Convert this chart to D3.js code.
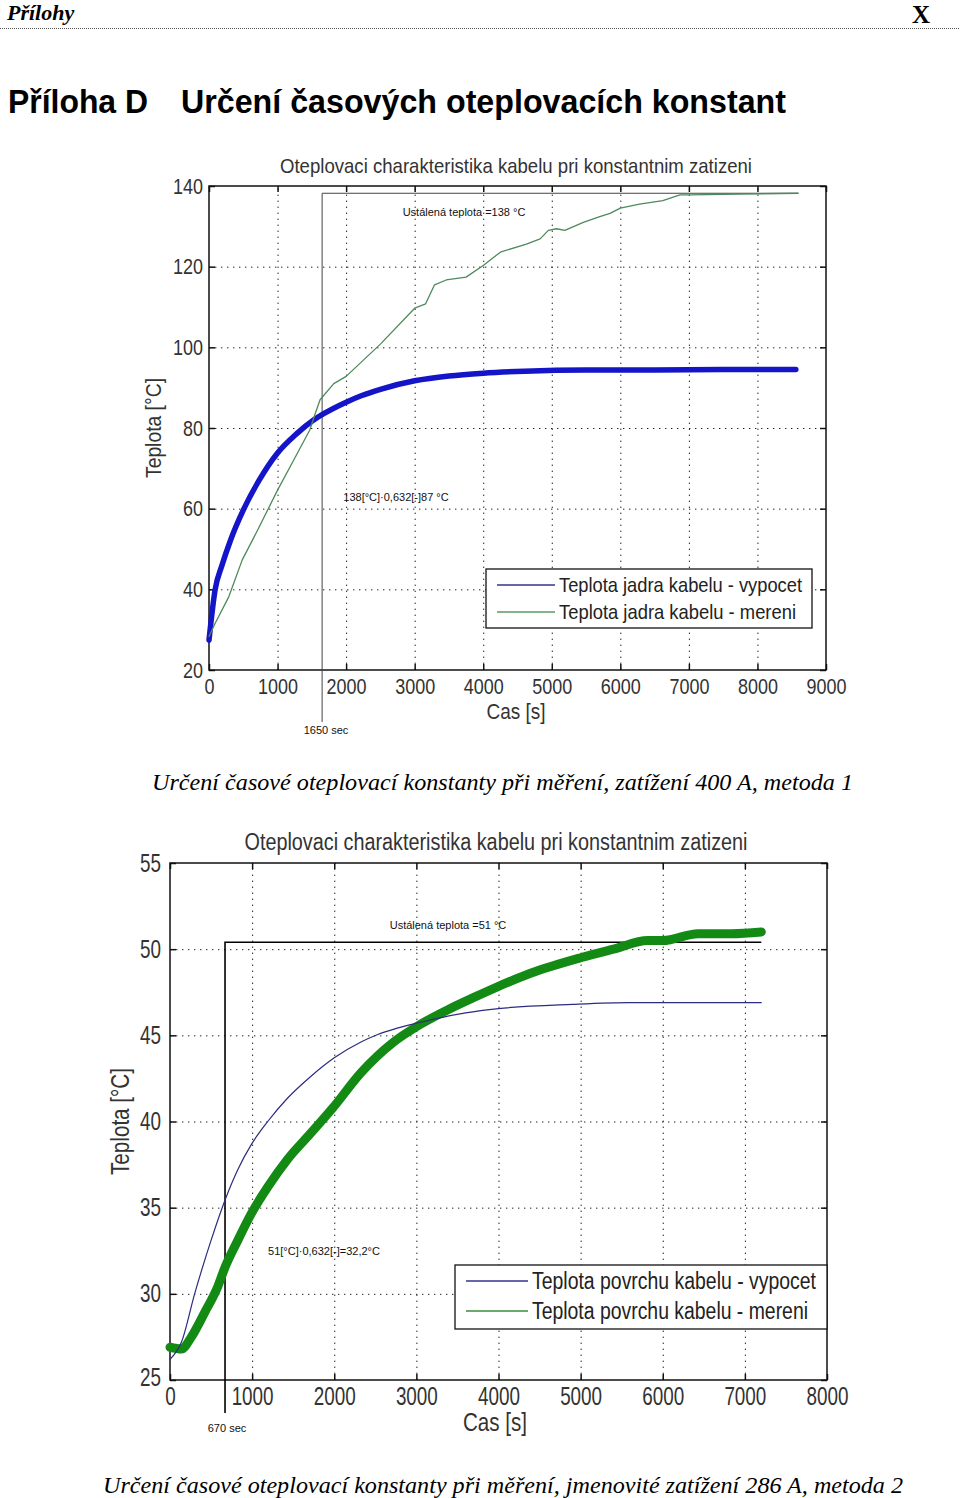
<!DOCTYPE html>
<html>
<head>
<meta charset="utf-8">
<script src="https://cdn.jsdelivr.net/npm/d3@7"></script>
<style>
  body { margin: 0; background: #fff; }
  svg { display: block; }
</style>
</head>
<body>
<div id="page"></div>
<script>
// --- chart 1: core temperature, 400 A, method 1 ---
const coreCalcTime = [0, 90, 190, 310, 510, 730, 1000, 1280, 1520, 1680, 2000, 2220, 2500, 3000, 3500, 4000, 4600, 5500, 6500, 7500, 8560];
const coreCalcTemp = [27.4, 40, 46, 52, 60, 67, 73.8, 78.6, 81.9, 83.6, 86.4, 88, 89.6, 91.7, 92.9, 93.6, 94.1, 94.4, 94.4, 94.5, 94.5];
const coreMeasTime = [0, 90, 290, 485, 710, 1000, 1250, 1470, 1550, 1620, 1820, 2000, 2500, 3000, 3160, 3290, 3460, 3750, 4000, 4250, 4630, 4830, 4950, 5070, 5190, 5460, 5700, 5850, 6000, 6280, 6620, 6870, 7000, 7740, 8590];
const coreMeasTemp = [28.3, 31.6, 38.2, 47.3, 54.7, 64.6, 72.5, 79.5, 83.6, 87, 91, 92.8, 100.8, 109.7, 110.8, 115.5, 116.7, 117.4, 120.3, 123.6, 125.6, 126.9, 129, 129.4, 129, 131, 132.4, 133.2, 134.5, 135.5, 136.4, 137.8, 137.8, 138, 138.2];
const coreXTicks = [0, 1000, 2000, 3000, 4000, 5000, 6000, 7000, 8000, 9000];
const coreYTicks = [20, 40, 60, 80, 100, 120, 140];
const coreLegend = ['Teplota jadra kabelu - vypocet', 'Teplota jadra kabelu - mereni'];

// --- chart 2: surface temperature, 286 A, method 2 ---
const surfCalcTime = [0, 140, 300, 500, 675, 825, 995, 1190, 1430, 1710, 2000, 2320, 2530, 2720, 3000, 3600, 4000, 4900, 5600, 7200];
const surfCalcTemp = [26.2, 27.2, 30.0, 33.1, 35.5, 37.2, 38.7, 40.0, 41.35, 42.6, 43.7, 44.6, 45.05, 45.35, 45.7, 46.3, 46.55, 46.8, 46.9, 46.9];
const surfMeasTime = [0, 140, 260, 420, 580, 675, 825, 995, 1190, 1430, 1710, 1985, 2320, 2720, 3000, 3390, 3700, 3980, 4390, 5000, 5400, 5820, 6000, 6430, 6840, 7200];
const surfMeasTemp = [26.9, 26.8, 27.5, 28.9, 30.4, 31.6, 33.1, 34.7, 36.2, 37.8, 39.3, 40.8, 42.8, 44.6, 45.5, 46.5, 47.2, 47.8, 48.6, 49.5, 50.0, 50.5, 50.5, 50.9, 50.9, 51.0];
const surfXTicks = [0, 1000, 2000, 3000, 4000, 5000, 6000, 7000, 8000];
const surfYTicks = [25, 30, 35, 40, 45, 50, 55];
const surfLegend = ['Teplota povrchu kabelu - vypocet', 'Teplota povrchu kabelu - mereni'];

const chartTitle = 'Oteplovaci charakteristika kabelu pri konstantnim zatizeni';
const SANS = '"Liberation Sans", Arial, sans-serif';

const svg = d3.select('#page').append('svg')
    .attr('width', 960)
    .attr('height', 1498);

// squeeze a text to a given width, the plot fonts are tall and narrow
function squeeze(sel, len) {
    sel.attr('textLength', len).attr('lengthAdjust', 'spacingAndGlyphs');
    return sel;
}

// page header
svg.append('text')
    .attr('x', 7).attr('y', 20)
    .style('font', 'italic bold 22px "Liberation Serif", serif')
    .text('Přílohy');
svg.append('text')
    .attr('x', 912).attr('y', 23)
    .style('font', 'bold 25px "Liberation Serif", serif')
    .text('X');
svg.append('line')
    .attr('x1', 0).attr('x2', 960).attr('y1', 28.5).attr('y2', 28.5)
    .style('stroke', '#555')
    .style('stroke-dasharray', '1,1');

squeeze(svg.append('text')
    .attr('x', 8).attr('y', 113)
    .style('font', 'bold 33px ' + SANS)
    .text('Příloha D'), 140);
squeeze(svg.append('text')
    .attr('x', 181).attr('y', 113)
    .style('font', 'bold 33px ' + SANS)
    .text('Určení časových oteplovacích konstant'), 605);

function drawChart(cfg) {
    const x = d3.scaleLinear().domain(cfg.xDomain).range([cfg.left, cfg.right]);
    const y = d3.scaleLinear().domain(cfg.yDomain).range([cfg.bottom, cfg.top]);
    const g = svg.append('g');
    const w = cfg.right - cfg.left;
    const h = cfg.bottom - cfg.top;
    const fs = cfg.fontSize;

    // dotted grid
    g.append('g')
        .attr('transform', `translate(0,${cfg.bottom})`)
        .call(d3.axisBottom(x).tickValues(cfg.xTicks.slice(1, -1)).tickSize(-h).tickFormat(''))
        .call(s => s.select('.domain').remove())
        .selectAll('line')
        .attr('class', 'grid')
        .style('stroke', '#222').style('stroke-dasharray', '1.4,4.6');
    g.append('g')
        .attr('transform', `translate(${cfg.left},0)`)
        .call(d3.axisLeft(y).tickValues(cfg.yTicks.slice(1, -1)).tickSize(-w).tickFormat(''))
        .call(s => s.select('.domain').remove())
        .selectAll('line')
        .attr('class', 'grid')
        .style('stroke', '#222').style('stroke-dasharray', '1.4,4.6');

    // inward ticks on all four sides
    const fmt = d3.format('d');
    const xb = g.append('g')
        .attr('transform', `translate(0,${cfg.bottom})`)
        .call(d3.axisBottom(x).tickValues(cfg.xTicks).tickFormat(fmt)
            .tickSizeInner(-6).tickSizeOuter(0).tickPadding(cfg.xPad));
    const yl = g.append('g')
        .attr('transform', `translate(${cfg.left},0)`)
        .call(d3.axisLeft(y).tickValues(cfg.yTicks).tickFormat(fmt)
            .tickSizeInner(-6).tickSizeOuter(0).tickPadding(cfg.yPad));
    g.append('g')
        .attr('transform', `translate(0,${cfg.top})`)
        .call(d3.axisTop(x).tickValues(cfg.xTicks).tickSizeInner(-6).tickSizeOuter(0).tickFormat(''));
    g.append('g')
        .attr('transform', `translate(${cfg.right},0)`)
        .call(d3.axisRight(y).tickValues(cfg.yTicks).tickSizeInner(-6).tickSizeOuter(0).tickFormat(''));
    g.selectAll('.domain').remove();
    g.selectAll('.tick line:not(.grid)')
        .style('stroke', '#111').style('stroke-width', 1.5);
    [xb, yl].forEach(a => a.selectAll('text')
        .style('font-family', SANS).style('font-size', fs + 'px').style('fill', '#333')
        .attr('textLength', d => fmt(d).length * cfg.digitW)
        .attr('lengthAdjust', 'spacingAndGlyphs'));
    // the lowest y label sits a little higher so it clears the x origin label
    yl.selectAll('text').filter(d => d === cfg.yDomain[0]).attr('dy', cfg.yLowDy);

    // frame
    g.append('rect')
        .attr('x', cfg.left).attr('y', cfg.top).attr('width', w).attr('height', h)
        .style('fill', 'none').style('stroke', '#111').style('stroke-width', 1.5);

    // title and axis labels
    squeeze(g.append('text')
        .attr('x', cfg.titleX).attr('y', cfg.top - 13)
        .attr('text-anchor', 'middle')
        .style('font-family', SANS).style('font-size', cfg.titleSize + 'px').style('fill', '#333')
        .text(chartTitle), cfg.titleLen);
    squeeze(g.append('text')
        .attr('x', cfg.xLabelX).attr('y', cfg.bottom + cfg.xLabelDy)
        .attr('text-anchor', 'middle')
        .style('font-family', SANS).style('font-size', fs + 'px').style('fill', '#333')
        .text('Cas [s]'), cfg.xLabelLen);
    squeeze(g.append('text')
        .attr('transform', `translate(${cfg.yLabelX},${(cfg.top + cfg.bottom) / 2}) rotate(-90)`)
        .attr('text-anchor', 'middle')
        .style('font-family', SANS).style('font-size', fs + 'px').style('fill', '#333')
        .text('Teplota [°C]'), cfg.yLabelLen);

    // time-constant construction lines
    const ann = cfg.ann;
    g.append('path')
        .attr('d', `M${x(ann.tau)},${ann.lineBottom}V${y(ann.steady)}H${x(ann.endTime)}`)
        .style('fill', 'none').style('stroke', ann.color).style('stroke-width', ann.width);

    // series
    const line = d3.line().x(d => x(d[0])).y(d => y(d[1]));
    const series = [
        { t: cfg.calcTime, v: cfg.calcTemp, style: cfg.calcStyle },
        { t: cfg.measTime, v: cfg.measTemp, style: cfg.measStyle }
    ];
    const order = cfg.drawMeasFirst ? [series[1], series[0]] : series;
    order.forEach(s => {
        g.append('path')
            .datum(d3.zip(s.t, s.v))
            .attr('d', line.curve(s.style.curve))
            .style('fill', 'none')
            .style('stroke', s.style.color)
            .style('stroke-width', s.style.width)
            .style('stroke-linejoin', 'round')
            .style('stroke-linecap', 'round');
    });

    // annotation texts
    ann.labels.forEach(l => {
        g.append('text')
            .attr('x', l.x).attr('y', l.y)
            .attr('text-anchor', 'middle')
            .style('font', '11px ' + SANS)
            .style('fill', '#111')
            .text(l.text);
    });

    // legend
    const lg = cfg.legend;
    g.append('rect')
        .attr('x', lg.x).attr('y', lg.y).attr('width', lg.w).attr('height', lg.h)
        .style('fill', '#fff').style('stroke', '#111').style('stroke-width', 1.3);
    cfg.legendNames.forEach((name, i) => {
        const ly = lg.y + lg.first + i * lg.step;
        g.append('line')
            .attr('x1', lg.x + 11).attr('x2', lg.x + 11 + lg.lineLen)
            .attr('y1', ly).attr('y2', ly)
            .style('stroke', lg.colors[i]).style('stroke-width', 1.4);
        squeeze(g.append('text')
            .attr('x', lg.x + 15 + lg.lineLen).attr('y', ly)
            .attr('dy', '0.35em')
            .style('font-family', SANS).style('font-size', lg.fontSize + 'px').style('fill', '#222')
            .text(name), lg.textLens[i]);
    });

    // caption
    squeeze(svg.append('text')
        .attr('x', cfg.caption.x).attr('y', cfg.caption.y)
        .style('font', 'italic 23px "Liberation Serif", serif')
        .text(cfg.caption.text), cfg.caption.len);
}

drawChart({
    left: 209, right: 826, top: 186, bottom: 670,
    xDomain: [0, 9000], yDomain: [20, 140],
    xTicks: coreXTicks, yTicks: coreYTicks,
    fontSize: 22, digitW: 10, xPad: 8, yPad: 6, yLowDy: '0.32em',
    titleX: 516, titleLen: 472, titleSize: 21,
    xLabelX: 516, xLabelDy: 49, xLabelLen: 59,
    yLabelX: 161, yLabelLen: 100,
    calcTime: coreCalcTime, calcTemp: coreCalcTemp,
    measTime: coreMeasTime, measTemp: coreMeasTemp,
    calcStyle: { color: '#1414c8', width: 5.5, curve: d3.curveMonotoneX },
    measStyle: { color: '#4d8a5c', width: 1.3, curve: d3.curveLinear },
    drawMeasFirst: false,
    ann: {
        tau: 1650, steady: 138.2, endTime: 8600, lineBottom: 722, color: '#444', width: 1,
        labels: [
            { x: 464, y: 216, text: 'Ustálená teplota =138 °C' },
            { x: 396, y: 501, text: '138[°C]·0,632[-]87 °C' },
            { x: 326, y: 734, text: '1650 sec' }
        ]
    },
    legend: {
        x: 486, y: 569, w: 326, h: 59, first: 16, step: 27, lineLen: 58, fontSize: 21,
        textLens: [243, 237], colors: ['#33338c', '#5a9a66']
    },
    legendNames: coreLegend,
    caption: { x: 152, y: 790, len: 701, text: 'Určení časové oteplovací konstanty při měření, zatížení 400 A, metoda 1' }
});

drawChart({
    left: 170, right: 827, top: 863, bottom: 1380,
    xDomain: [0, 8000], yDomain: [25, 55],
    xTicks: surfXTicks, yTicks: surfYTicks,
    fontSize: 25, digitW: 10.5, xPad: 7, yPad: 9, yLowDy: '0.2em',
    titleX: 496, titleLen: 503, titleSize: 23,
    xLabelX: 495, xLabelDy: 51, xLabelLen: 64,
    yLabelX: 129, yLabelLen: 107,
    calcTime: surfCalcTime, calcTemp: surfCalcTemp,
    measTime: surfMeasTime, measTemp: surfMeasTemp,
    calcStyle: { color: '#2c2c80', width: 1.2, curve: d3.curveMonotoneX },
    measStyle: { color: '#138a13', width: 9, curve: d3.curveMonotoneX },
    drawMeasFirst: true,
    ann: {
        tau: 670, steady: 50.4, endTime: 7200, lineBottom: 1413, color: '#000', width: 1.6,
        labels: [
            { x: 448, y: 929, text: 'Ustálená teplota =51 °C' },
            { x: 324, y: 1255, text: '51[°C]·0,632[-]=32,2°C' },
            { x: 227, y: 1432, text: '670 sec' }
        ]
    },
    legend: {
        x: 455, y: 1265, w: 372, h: 64, first: 16, step: 30, lineLen: 62, fontSize: 23,
        textLens: [284, 276], colors: ['#33338c', '#3c8c3c']
    },
    legendNames: surfLegend,
    caption: { x: 103, y: 1493, len: 800, text: 'Určení časové oteplovací konstanty při měření, jmenovité zatížení 286 A, metoda 2' }
});
</script>
</body>
</html>
